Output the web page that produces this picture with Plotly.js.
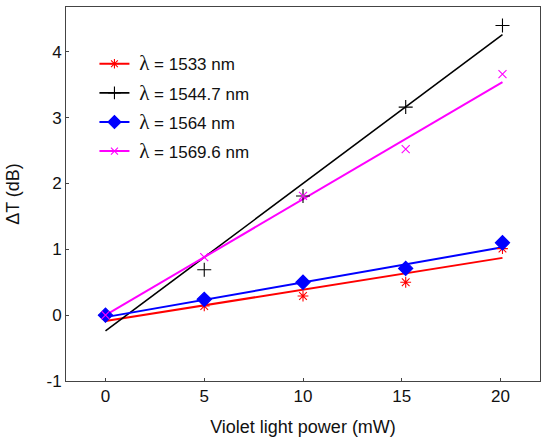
<!DOCTYPE html>
<html>
<head>
<meta charset="utf-8">
<script src="https://cdn.plot.ly/plotly-3.0.1.min.js"></script>
<style>body{margin:0;padding:0;background:#fff}#chart{width:541px;height:443px}</style>
</head>
<body>
<div id="chart"></div>
<script>
// Measured data (violet light power in mW, ΔT in dB)
const power = [0, 5, 10, 15.2, 20.1];
const names = ['1533 nm', '1544.7 nm', '1564 nm', '1569.6 nm'];
const dT1533 = [0.0, 0.14, 0.29, 0.50, 1.01];
const dT1544 = [0.0, 0.69, 1.81, 3.16, 4.40];
const dT1564 = [0.0, 0.24, 0.50, 0.71, 1.10];
const dT1569 = [0.0, 0.88, 1.81, 2.52, 3.66];
// Linear fit lines, read at their endpoints
const fitX = [0, 20.1];
const fit1533 = [-0.09, 0.87];
const fit1544 = [-0.24, 4.26];
const fit1564 = [-0.03, 1.03];
const fit1569 = [0.0, 3.54];
const xTicks = [0, 5, 10, 15, 20];
const yTicks = [-1, 0, 1, 2, 3, 4];

const colors = ['#ff0000', '#000000', '#0000ff', '#ff00ff'];
const symbols = ['asterisk-open', 'cross-thin-open', 'diamond', 'x-thin-open'];
const sizes = [9, 10, 11, 8];
const lw = [2, 1.6, 2, 2];
const data = [dT1533, dT1544, dT1564, dT1569];
const fits = [fit1533, fit1544, fit1564, fit1569];

const traces = [];
for (let i = 0; i < 4; i++) {
  traces.push({x: fitX, y: fits[i], mode: 'lines', line: {color: colors[i], width: lw[i]}, showlegend: false, hoverinfo: 'skip'});
}
for (let i = 0; i < 4; i++) {
  const mk = {symbol: symbols[i], size: sizes[i], color: colors[i], line: {color: colors[i], width: 1.1}};
  traces.push({x: power, y: data[i], mode: 'markers', marker: mk, showlegend: false});
}
for (let i = 0; i < 4; i++) {
  const mk = {symbol: symbols[i], size: sizes[i] - 1, color: colors[i], line: {color: colors[i], width: 1.1}};
  traces.push({x: [null], y: [null], mode: 'lines+markers', line: {color: colors[i], width: lw[i]}, marker: mk,
    name: '\u00a0<span style="font-size:21px;font-family:Liberation Serif, serif">λ</span> = ' + names[i], legendgroup: 'g' + i});
}

const axisCommon = {
  showline: true, mirror: true, linecolor: '#444', linewidth: 1,
  ticks: 'inside', ticklen: 3, tickcolor: '#444', showgrid: false, zeroline: false,
  tickfont: {family: 'Liberation Sans, Arial, sans-serif', size: 17, color: '#111'}
};

const layout = {
  width: 541, height: 443,
  margin: {l: 66, r: 1, t: 7, b: 62},
  paper_bgcolor: '#fff', plot_bgcolor: '#fff',
  font: {family: 'Liberation Sans, Arial, sans-serif', color: '#111'},
  xaxis: Object.assign({}, axisCommon, {
    range: [-2, 22], tickvals: xTicks, ticktext: xTicks.map(String),
    title: {text: 'Violet light power (mW)', font: {size: 18}, standoff: 14}
  }),
  yaxis: Object.assign({}, axisCommon, {
    range: [-1, 4.68], tickvals: yTicks, ticktext: yTicks.map(String),
    title: {text: 'ΔT (dB)', font: {size: 18}, standoff: 22}
  }),
  showlegend: true,
  legend: {x: 0.06, y: 0.895, xanchor: 'left', yanchor: 'top', bgcolor: 'rgba(0,0,0,0)',
    font: {size: 17, color: '#111'}, traceorder: 'grouped', tracegroupgap: 4}
};

Plotly.newPlot('chart', traces, layout, {displayModeBar: false, staticPlot: true});
</script>
</body>
</html>
